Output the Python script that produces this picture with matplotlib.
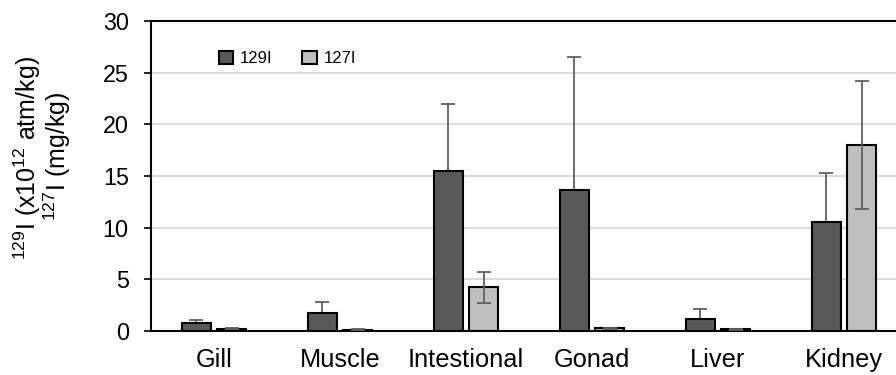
import matplotlib
matplotlib.use("Agg")
import matplotlib.pyplot as plt
import numpy as np

plt.rcParams['font.family'] = ['Liberation Sans', 'DejaVu Sans']
plt.rcParams['mathtext.fontset'] = 'custom'
plt.rcParams['mathtext.rm'] = 'Liberation Sans'

organs = ["Gill", "Muscle", "Intestional", "Gonad", "Liver", "Kidney"]
i129 = [0.8, 1.77, 15.5, 13.65, 1.13, 10.58]
i129_err = [0.23, 1.03, 6.5, 12.9, 1.0, 4.7]
i127 = [0.2, 0.12, 4.23, 0.26, 0.15, 18.0]
i127_err = [0.05, 0.05, 1.5, 0.05, 0.05, 6.2]

fig = plt.figure(figsize=(8.96, 3.75), dpi=100)
ax = fig.add_axes([151 / 896, 1 - 331 / 375, 756 / 896, 310 / 375])

x = np.arange(len(organs))
w = 0.23
off = 0.14
ax.yaxis.grid(True, color="#d9d9d9", lw=1.3, zorder=0)
ax.set_axisbelow(True)
# 129I error bars sit behind the dark bars, so only the upper half shows
ax.errorbar(x - off, i129, yerr=i129_err, fmt="none", ecolor="#606060",
            elinewidth=1.3, capsize=5, capthick=1.3, zorder=1.5)
ax.bar(x - off, i129, w, color="#595959", edgecolor="black", lw=1.5, zorder=2, label="129I")
ax.bar(x + off, i127, w, color="#bfbfbf", edgecolor="black", lw=1.5, zorder=2, label="127I")
ax.errorbar(x + off, i127, yerr=i127_err, fmt="none", ecolor="#606060", elinewidth=1.3,
            capsize=5, capthick=1.3, zorder=3)

ax.set_xlim(-0.5, len(organs) - 0.5)
ax.set_ylim(0, 30)
ax.set_yticks(range(0, 31, 5))
ax.set_xticks(x)
ax.set_xticklabels(organs, fontsize=18.3)
ax.tick_params(axis="y", labelsize=16.8, length=5, width=1.2, pad=11)
ax.tick_params(axis="x", length=0, pad=12)
for s in ["left", "top", "bottom"]:
    ax.spines[s].set_linewidth(1.5)
ax.spines["right"].set_visible(False)

ax.legend(ncol=2, loc="center left", bbox_to_anchor=(68 / 756, 272.5 / 310), handlelength=0.85,
          handleheight=0.85, fontsize=12, columnspacing=1.8, handletextpad=0.4,
          borderpad=0, borderaxespad=0, frameon=False)

fig.text(27 / 896, 1 - 158 / 375, r"$^{129}$I (x10$^{12}$ atm/kg)", rotation=90,
         ha="center", va="center", fontsize=18)
fig.text(57 / 896, 1 - 156 / 375, r"$^{127}$I (mg/kg)", rotation=90,
         ha="center", va="center", fontsize=18)

fig.savefig("out.png", dpi=100)
